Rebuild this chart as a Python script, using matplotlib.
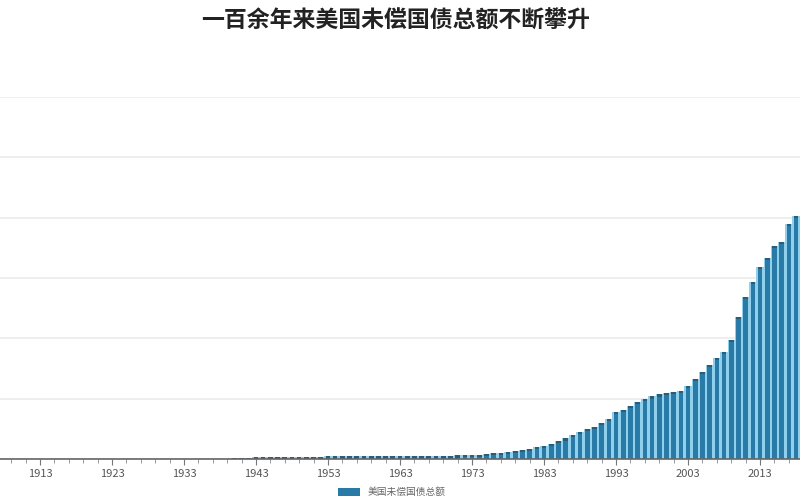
import numpy as np
import matplotlib
matplotlib.use('Agg')
import matplotlib.pyplot as plt

plt.rcParams['font.family'] = ['Noto Sans CJK SC', 'DejaVu Sans']

# years shown in the (cropped) chart
years = np.arange(1908, 2019)

# outstanding public debt, trillion USD
debt_1908_1943 = [0.003, 0.003, 0.003, 0.003, 0.003, 0.003, 0.003, 0.003, 0.003,
                  0.006, 0.012, 0.025, 0.024, 0.024, 0.023, 0.022, 0.021, 0.020,
                  0.019, 0.018, 0.018, 0.017, 0.016, 0.017, 0.019, 0.023, 0.027,
                  0.029, 0.034, 0.036, 0.037, 0.040, 0.043, 0.049, 0.072, 0.137]
debt_1944_1968 = [0.15, 0.19, 0.20, 0.20, 0.19, 0.19, 0.20, 0.20, 0.20, 0.21,
                  0.21, 0.21, 0.21, 0.21, 0.22, 0.22, 0.22, 0.22, 0.23, 0.23,
                  0.24, 0.24, 0.24, 0.25, 0.26]
debt_1969_2018 = [0.27, 0.28, 0.31, 0.33, 0.35, 0.37, 0.42, 0.50, 0.52, 0.58,
                  0.66, 0.75, 0.83, 1.00, 1.08, 1.24, 1.49, 1.70, 1.99, 2.24,
                  2.49, 2.69, 2.99, 3.32, 3.90, 4.06, 4.39, 4.73, 4.98, 5.18,
                  5.35, 5.47, 5.56, 5.64, 6.05, 6.63, 7.21, 7.79, 8.37, 8.87,
                  9.87, 11.77, 13.43, 14.68, 15.92, 16.67, 17.66, 17.99, 19.49, 20.15]
debt = np.array(debt_1908_1943 + debt_1944_1968 + debt_1969_2018)

label_years = np.arange(1913, 2019, 10)
title = '一百余年来美国未偿国债总额不断攀升'
series_name = '美国未偿国债总额'

fig = plt.figure(figsize=(8, 5), dpi=100)
ax = fig.add_axes([0, 0.082, 1, 0.724])

# light underlay, main bar and darker cap
ax.bar(years, debt, width=1.0, color='#8fd0ec', zorder=2)
bars = ax.bar(years, debt, width=0.64, color='#2a7aa8', zorder=3, label=series_name)
cap = np.minimum(debt, 0.2)
ax.bar(years, cap, bottom=debt - cap, width=0.64, color='#2f5b74', zorder=4)

ax.set_xlim(1907.45, 2018.55)
ax.set_ylim(0, 30)
ax.set_yticks(np.arange(0, 31, 5))
ax.yaxis.grid(True, color='#ebebeb', linewidth=1.2, zorder=0)
ax.tick_params(axis='y', length=0, labelleft=False)

ax.set_xticks(label_years)
ax.set_xticklabels([str(y) for y in label_years])
ax.set_xticks(np.arange(1909, 2019, 2), minor=True)
ax.tick_params(axis='x', which='major', length=4, color='#777777',
               labelsize=8, labelcolor='#555555', pad=3)
ax.tick_params(axis='x', which='minor', length=3, color='#888888')

for s in ['top', 'right', 'left']:
    ax.spines[s].set_visible(False)
ax.spines['bottom'].set_color('#666666')
ax.spines['bottom'].set_linewidth(1.2)
ax.spines['bottom'].set_zorder(5)

fig.text(0.494, 0.958, title, ha='center', va='center', fontsize=16.5,
         fontweight='bold', color='#222222')

fig.legend(handles=[bars], loc='lower center', bbox_to_anchor=(0.49, -0.012),
           frameon=False, fontsize=7, handlelength=2.2, handleheight=0.9,
           labelcolor='#666666')

plt.savefig('out.png')
